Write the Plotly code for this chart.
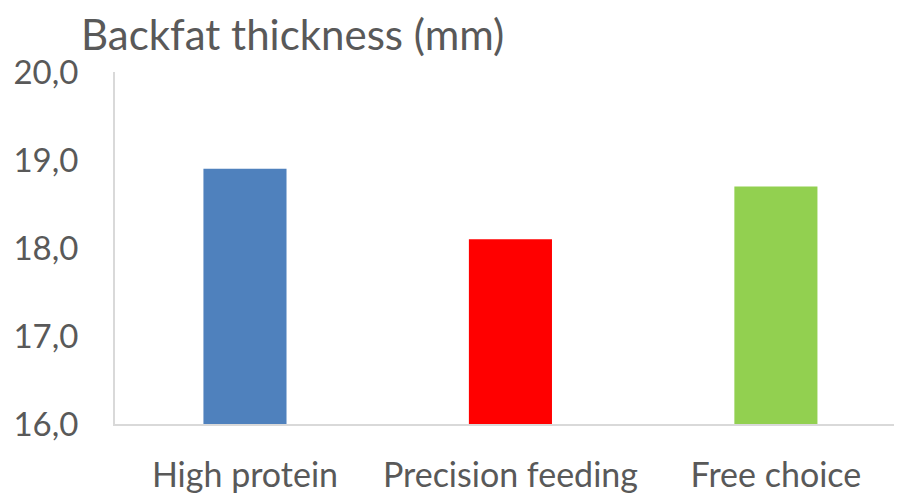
import plotly.graph_objects as go

categories = ["High protein", "Precision feeding", "Free choice"]
values = [18.9, 18.1, 18.7]
colors = ["#4F81BD", "#FF0000", "#92D050"]
title_text = "Backfat thickness (mm)"
y_ticks = [16, 17, 18, 19, 20]

FONT = "Lato"
TXT = "#595959"

fig = go.Figure(go.Bar(
    x=categories, y=values, marker=dict(color=colors, line=dict(width=0)),
    width=0.313,
))

fig.update_layout(
    width=894, height=485,
    margin=dict(l=107, r=0, t=64, b=69),
    paper_bgcolor="white", plot_bgcolor="white",
    separators=",.",
    showlegend=False,
    font=dict(family=FONT, color=TXT, size=34),
)
fig.add_annotation(
    text=title_text, xref="paper", yref="paper", x=-0.0457, y=1.0, yshift=11,
    xanchor="left", yanchor="bottom", showarrow=False,
    font=dict(family=FONT, size=42, color=TXT),
)
fig.update_xaxes(
    range=[-0.4896, 2.475], showline=True, linecolor="#D9D9D9", linewidth=2,
    ticks="outside", ticklen=20, tickcolor="rgba(0,0,0,0)",
    tickfont=dict(size=34, color=TXT, family=FONT), showgrid=False,
    automargin=False,
)
fig.update_yaxes(
    range=[16, 20], tickvals=y_ticks, tickformat=".1f",
    showline=True, linecolor="#D9D9D9", linewidth=2,
    ticks="outside", ticklen=28, tickcolor="rgba(0,0,0,0)",
    tickfont=dict(size=33, color=TXT, family=FONT), showgrid=False, zeroline=False,
    automargin=False,
)

fig.write_html("out.html")
